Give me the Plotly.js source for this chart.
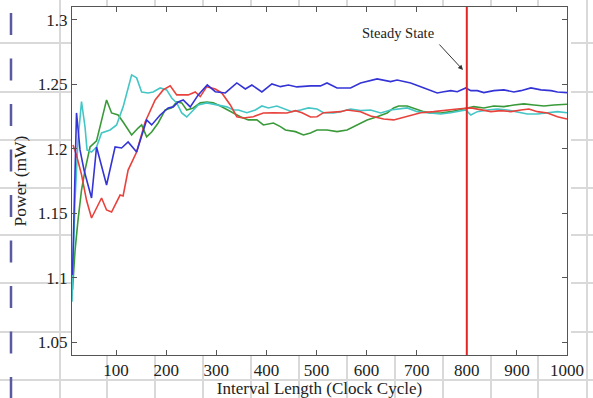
<!DOCTYPE html>
<html>
<head>
<meta charset="utf-8">
<script src="https://cdn.plot.ly/plotly-3.0.1.min.js"></script>
<style>html,body{margin:0;padding:0;background:#fff;}#chart{width:593px;height:398px;}</style>
</head>
<body>
<div id="chart"></div>
<script>
// ---- data ----
const blueX = [13,21,28,36,44,51,61,70,81,98,111,124,141,161,171,188,204,214,224,234,248,264,282,298,318,341,358,371,391,411,428,444,461,488,508,521,541,568,588,621,648,661,688,708,724,741,754,768,781,798,808,821,834,854,874,894,908,928,948,968,981,1000];
const blueY = [1.102,1.2278,1.1991,1.1835,1.1719,1.1618,1.2014,1.1874,1.1719,1.2014,1.2006,1.2053,1.1975,1.2224,1.2185,1.2262,1.2317,1.2325,1.2363,1.2379,1.2325,1.2418,1.2495,1.2443,1.2433,1.2511,1.2464,1.2495,1.2441,1.2503,1.2482,1.2495,1.2480,1.2488,1.2488,1.2511,1.2472,1.2472,1.2511,1.2542,1.2521,1.2534,1.2511,1.2482,1.2457,1.2433,1.2443,1.2451,1.2443,1.2472,1.2451,1.2451,1.2436,1.2451,1.2457,1.2441,1.2451,1.2472,1.2457,1.2451,1.2441,1.2436];

const redX = [14,21,31,41,51,61,71,81,91,108,114,124,141,158,168,178,194,208,221,244,258,268,281,298,311,328,341,354,374,394,414,441,458,471,488,501,514,534,548,561,588,608,634,654,681,708,734,761,781,808,828,848,868,888,908,924,941,961,981,1000];
const redY = [1.203,1.195,1.180,1.160,1.1463,1.154,1.1618,1.1525,1.1509,1.1641,1.1634,1.1835,1.1975,1.2208,1.2301,1.2379,1.2457,1.2488,1.2418,1.2418,1.2441,1.2405,1.2482,1.2464,1.2433,1.2340,1.2249,1.2239,1.2249,1.2278,1.2280,1.2278,1.2296,1.2280,1.2247,1.2249,1.2280,1.2288,1.2288,1.2301,1.2288,1.2255,1.2231,1.2224,1.2249,1.2280,1.2288,1.2301,1.2309,1.2317,1.2301,1.2288,1.2296,1.2288,1.2301,1.2309,1.2288,1.2278,1.2249,1.2231];

const greenX = [13,18,24,31,38,48,61,81,91,104,114,131,144,151,161,171,184,198,211,221,231,241,254,268,281,294,308,328,348,364,381,394,414,428,438,458,474,488,501,521,541,561,581,601,621,641,654,664,681,694,714,728,748,768,788,801,814,834,854,874,894,914,934,954,974,1000];
const greenY = [1.0904,1.121,1.1447,1.1680,1.1835,1.2014,1.2061,1.2379,1.2278,1.2262,1.2208,1.2107,1.2161,1.2185,1.2092,1.2130,1.2200,1.2301,1.2317,1.2363,1.2356,1.2301,1.2317,1.2356,1.2363,1.2356,1.2332,1.2288,1.2249,1.2224,1.2224,1.2185,1.2200,1.2172,1.2146,1.2133,1.2107,1.2123,1.2146,1.2146,1.2133,1.2146,1.2185,1.2224,1.2249,1.2278,1.2317,1.2332,1.2332,1.2317,1.2288,1.2278,1.2278,1.2288,1.2309,1.2317,1.2327,1.2317,1.2332,1.2327,1.2340,1.2348,1.2340,1.2332,1.2340,1.2345];

const cyanX = [12,18,24,31,38,42,51,61,71,88,101,114,131,141,151,164,174,188,201,211,221,231,241,251,264,281,301,321,334,344,361,378,391,404,421,438,451,468,484,501,514,534,548,568,588,608,628,648,681,701,721,748,768,781,798,808,821,841,861,881,901,921,941,961,981,1000];
const cyanY = [1.0813,1.160,1.2068,1.2366,1.2169,1.1991,1.1975,1.2014,1.2123,1.2146,1.2185,1.2325,1.2573,1.2550,1.2441,1.2433,1.2441,1.2472,1.2457,1.2394,1.2356,1.2278,1.2247,1.2286,1.2340,1.2356,1.2340,1.2325,1.2301,1.2301,1.2280,1.2301,1.2332,1.2317,1.2332,1.2309,1.2288,1.2301,1.2317,1.2309,1.2280,1.2278,1.2288,1.2309,1.2296,1.2301,1.2278,1.2301,1.2317,1.2288,1.2278,1.2270,1.2280,1.2288,1.2301,1.2262,1.2288,1.2301,1.2309,1.2301,1.2288,1.2270,1.2270,1.2280,1.2288,1.2280];

const xTickVals = [100,200,300,400,500,600,700,800,900,1000];
const xTickText = ["100","200","300","400","500","600","700","800","900","1000"];
const yTickVals = [1.05,1.1,1.15,1.2,1.25,1.3];
const yTickText = ["1.05","1.1","1.15","1.2","1.25","1.3"];

const steadyStateX = 800;
const annotationText = "Steady State";
const xTitle = "Interval Length (Clock Cycle)";
const yTitle = "Power (mW)";

// ---- layout geometry ----
const W = 593, H = 398, ML = 72, MR = 26, MT = 7, MB = 43;
const PW = W - ML - MR, PH = H - MT - MB;
const px = v => (v - ML) / PW;
const py = v => (H - MB - v) / PH;

const gridColor = "#d9d9d9";
const shapes = [];
function seg(x0, y0, x1, y1, color, width, dash) {
  shapes.push({type: "line", xref: "paper", yref: "paper", layer: "below",
    x0: px(x0), y0: py(y0), x1: px(x1), y1: py(y1),
    line: {color: color, width: width, dash: dash || "solid"}});
}
// background table grid (outside the plot area)
[43, 92, 140, 188, 235, 283, 332].forEach(hy => {
  seg(0, hy, ML, hy, gridColor, 2);
  seg(571, hy, W, hy, gridColor, 2);
});
seg(0, 380, W, 380, gridColor, 2);
[60, 107, 155, 203, 251, 299, 347, 395, 443, 491, 538, 587].forEach(vx => {
  if (vx < ML || vx > ML + PW) {
    seg(vx, 0, vx, H, gridColor, 2);
  } else {
    seg(vx, 0, vx, MT, gridColor, 2);
    seg(vx, H - MB, vx, H, gridColor, 2);
  }
});
// dashed blue margin marker
seg(11, 13, 11, H, "#5a5aa0", 2.5, "22px,23.5px");

// steady state line
shapes.push({type: "line", xref: "x", yref: "paper", x0: steadyStateX, x1: steadyStateX, y0: 0, y1: 1,
  line: {color: "#e32424", width: 2}});

const font = "Liberation Serif, Times New Roman, serif";
const lineW = 1.6;
const traces = [
  {x: greenX, y: greenY, mode: "lines", line: {color: "#3a9a3a", width: lineW}},
  {x: cyanX, y: cyanY, mode: "lines", line: {color: "#45c6c6", width: lineW}},
  {x: redX, y: redY, mode: "lines", line: {color: "#e8423c", width: lineW}},
  {x: blueX, y: blueY, mode: "lines", line: {color: "#3434d6", width: lineW}}
];

const axisCommon = {
  showgrid: false, zeroline: false, showline: true, linecolor: "#555", linewidth: 1,
  mirror: "ticks", ticks: "inside", ticklen: 5, tickcolor: "#555", tickwidth: 1,
  tickfont: {family: font, size: 17, color: "#222"}
};

const layout = {
  width: W, height: H,
  margin: {l: ML, r: MR, t: MT, b: MB, pad: 0},
  paper_bgcolor: "#ffffff", plot_bgcolor: "#ffffff",
  showlegend: false,
  font: {family: font, color: "#222"},
  xaxis: Object.assign({}, axisCommon, {
    range: [12, 1000], tickmode: "array", tickvals: xTickVals, ticktext: xTickText,
    title: {text: xTitle, font: {family: font, size: 17, color: "#222"}, standoff: 2}
  }),
  yaxis: Object.assign({}, axisCommon, {
    range: [1.04, 1.31], tickmode: "array", tickvals: yTickVals, ticktext: yTickText,
    title: {text: yTitle, font: {family: font, size: 17.5, color: "#222"}, standoff: 6}
  }),
  shapes: shapes,
  annotations: [
    {xref: "paper", yref: "paper", x: px(398), y: py(33), text: annotationText, showarrow: false,
     font: {family: font, size: 14.5, color: "#222"}, xanchor: "center", yanchor: "middle"},
    {xref: "paper", yref: "paper", x: px(463), y: py(70), text: "", showarrow: true,
     ax: -25, ay: -27, arrowhead: 2, arrowsize: 1, arrowwidth: 1, arrowcolor: "#333"}
  ]
};

Plotly.newPlot("chart", traces, layout, {displayModeBar: false, staticPlot: true});
</script>
</body>
</html>
